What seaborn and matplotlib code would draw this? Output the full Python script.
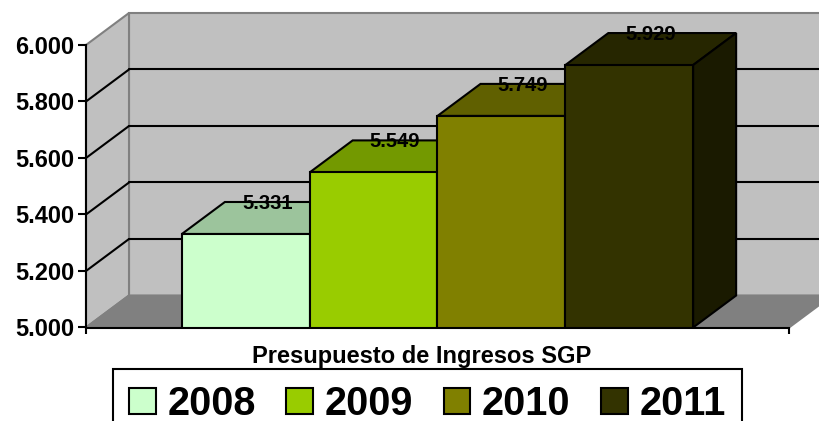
import matplotlib
matplotlib.use("Agg")
import matplotlib.pyplot as plt
import seaborn as sns
from matplotlib.patches import Polygon, Patch
from matplotlib.lines import Line2D

# data
years = ["2008", "2009", "2010", "2011"]
ingresos = [5331, 5549, 5749, 5929]
y_ticks = [5000, 5200, 5400, 5600, 5800, 6000]

front_colors = ["#CCFFCC", "#99CC00", "#808000", "#333300"]
top_colors = ["#9CC49C", "#739900", "#606000", "#262600"]
side_colors = ["#7FA67F", "#5C7A00", "#4D4D00", "#1A1A00"]

sns.set_style("white")
plt.rcParams["font.family"] = ["Liberation Sans", "DejaVu Sans"]
plt.rcParams.update({"text.color": "black", "axes.labelcolor": "black",
                     "xtick.color": "black", "ytick.color": "black"})

W, H = 820, 421
DX, DY = 43, 32  # 3d depth in pixels


def fmt(v):
    return f"{v:,}".replace(",", ".")


fig = plt.figure(figsize=(W / 100, H / 100), dpi=100)
ax = fig.add_axes([86 / W, 1 - 327.5 / H, 703 / W, 282.5 / H])
ax.patch.set_visible(False)

sns.barplot(x=years, y=ingresos, hue=years, palette=front_colors, width=1, saturation=1,
            edgecolor="black", linewidth=1.5, legend=False, ax=ax)
bars = list(ax.patches)
for b in bars:
    b.set_zorder(4)

ax.set_xlim(-1.25, 4.25)
ax.set_ylim(y_ticks[0], y_ticks[-1])

to_fig = fig.transFigure.inverted()


def pt(x, y, trans, depth=0):
    px, py = trans.transform((x, y))
    return to_fig.transform((px + depth * DX, py + depth * DY))


def poly(verts, fc, ec, lw, z):
    ax.add_patch(Polygon(verts, closed=True, transform=fig.transFigure,
                         facecolor=fc, edgecolor=ec, linewidth=lw,
                         clip_on=False, zorder=z))


def line(a, b, color, lw, z):
    ax.add_line(Line2D([a[0], b[0]], [a[1], b[1]], transform=fig.transFigure,
                       color=color, linewidth=lw, clip_on=False, zorder=z))


A = ax.transAxes
Y = ax.get_yaxis_transform()

# walls and floor
poly([pt(0, 0, A, 1), pt(1, 0, A, 1), pt(1, 1, A, 1), pt(0, 1, A, 1)], "#C0C0C0", "#808080", 1.5, 0)
poly([pt(0, 0, A), pt(0, 1, A), pt(0, 1, A, 1), pt(0, 0, A, 1)], "#C0C0C0", "#808080", 1.5, 0.2)
poly([pt(0, 0, A), pt(1, 0, A), pt(1, 0, A, 1), pt(0, 0, A, 1)], "#808080", "#808080", 1.5, 0.2)

# gridlines on back and side walls
for t in y_ticks[1:-1]:
    line(pt(0, t, Y, 1), pt(1, t, Y, 1), "black", 1.5, 1)
    line(pt(0, t, Y), pt(0, t, Y, 1), "black", 1.5, 1)

# top and side faces of the bars
D = ax.transData
for i, v in enumerate(ingresos):
    x0, x1 = i - 0.5, i + 0.5
    poly([pt(x0, v, D), pt(x1, v, D), pt(x1, v, D, 1), pt(x0, v, D, 1)],
         top_colors[i], "black", 1.5, 3)
    poly([pt(x1, y_ticks[0], D), pt(x1, v, D), pt(x1, v, D, 1), pt(x1, y_ticks[0], D, 1)],
         side_colors[i], "black", 1.5, 3)
    ax.annotate(fmt(v), xy=(i, v), xytext=(DX / 2, DY - 7), textcoords="offset pixels",
                ha="center", va="baseline", fontsize=14.5, fontweight="bold",
                color="black", zorder=6, annotation_clip=False)

ax.set_yticks(y_ticks)
ax.set_yticklabels([fmt(t) for t in y_ticks], fontsize=17, fontweight="bold")
ax.set_xticks([-1.25, 4.25])
ax.set_xticklabels(["", ""])
ax.tick_params(axis="y", left=True, direction="out", length=6, width=1.5, pad=2.5, colors="black")
ax.tick_params(axis="x", bottom=True, direction="out", length=4.3, width=1.5, colors="black")
sns.despine(ax=ax)
for s in ["left", "bottom"]:
    ax.spines[s].set_color("black")
    ax.spines[s].set_linewidth(1.5)
    ax.spines[s].set_zorder(5)

fig.text(422 / W, 1 - 363 / H, "Presupuesto de Ingresos SGP", ha="center", va="baseline",
         fontsize=17, fontweight="bold", color="black")

handles = [Patch(facecolor=c, edgecolor="black", linewidth=1.5) for c in front_colors]
leg = fig.legend(handles=handles, labels=years, loc="upper center",
                 bbox_to_anchor=(427.5 / W, 1 - 369 / H), ncol=4,
                 prop={"size": 28.5, "weight": "bold"}, frameon=True, fancybox=False,
                 edgecolor="black", framealpha=1, handlelength=0.67, handleheight=0.64,
                 handletextpad=0.3, columnspacing=0.77, borderpad=0.4, borderaxespad=0,
                 labelcolor="black")
leg.get_frame().set_linewidth(1.5)

fig.savefig("out.png", dpi=100)
